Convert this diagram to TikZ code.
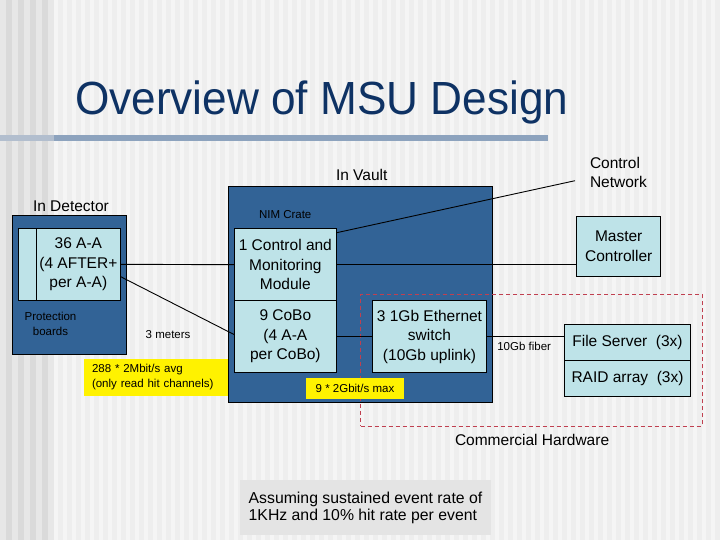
\documentclass[tikz,border=0pt]{standalone}
\usepackage{fontspec}
\setmainfont{Liberation Sans}
\newfontfamily\titlefont[FakeStretch=0.95]{Liberation Sans}
\definecolor{bgmain}{RGB}{238,238,238}
\definecolor{bgstripe}{RGB}{245,245,245}
\definecolor{bgleft}{RGB}{218,218,218}
\definecolor{bgleftstripe}{RGB}{231,231,231}
\definecolor{titleblue}{RGB}{14,50,100}
\definecolor{ulblue}{RGB}{141,163,190}
\definecolor{ulleft}{RGB}{178,190,206}
\definecolor{nimblue}{RGB}{50,99,150}
\definecolor{cyanbox}{RGB}{190,227,232}
\definecolor{dashred}{RGB}{192,64,80}
\definecolor{asmgray}{RGB}{228,228,228}
\begin{document}
\begin{tikzpicture}[x=1pt,y=-1pt,
  every node/.style={inner sep=0pt, outer sep=0pt},
  f15/.style={font=\fontsize{15.5}{19.5}\selectfont},
  f11/.style={font=\fontsize{11.5}{15}\selectfont},
  dbox/.style={draw=black, line width=1pt, fill=nimblue},
  lbox/.style={draw=black, line width=1pt, fill=cyanbox, align=center, f15},
  ybox/.style={fill=yellow, f11},
  wire/.style={draw=black, line width=0.9pt},
  reddash/.style={draw=dashred, line width=1pt, dash pattern=on 4pt off 3pt}]
\useasboundingbox (0,0) rectangle (720,540);
% background
\fill[bgmain] (0,0) rectangle (720,540);
\foreach \x in {54,63,...,720} \fill[bgstripe] (\x,0) rectangle ++(4,540);
\fill[bgleft] (0,0) rectangle (54,540);
\foreach \x in {0,12,...,48} \fill[bgleftstripe] (\x,0) rectangle ++(6,540);
% title
\node[anchor=base west, text=titleblue, font=\titlefont\fontsize{46.5}{50}\selectfont] (title) at (75,115) {Overview of MSU Design};
\fill[ulblue] (0,135) rectangle (548,141);
\fill[ulleft] (0,135) rectangle (54,141);
% detector
\node[f15, anchor=base west] (indet) at (33,211.7) {In Detector};
\node[dbox, minimum width=114.4pt, minimum height=138pt] (det) at (69.5,285) {};
\node[lbox, minimum width=17.7pt, minimum height=72pt] (strip) at (27.15,264.3) {};
\node[lbox, minimum width=84.7pt, minimum height=72pt] (aa) at (78.35,264.3) {36 A-A\\(4 AFTER+\\per A-A)};
\node[f11, anchor=base, align=center] (prot) at (50.5,335) {Protection\\boards};
% vault
\node[f15, anchor=base west] (invault) at (336,180.7) {In Vault};
\node[dbox, minimum width=264.4pt, minimum height=215.6pt] (nim) at (360.5,294.5) {};
\node[f11, anchor=base west] (nimlbl) at (259,218.3) {NIM Crate};
\node[reddash, minimum width=341.3pt, minimum height=131.8pt] (comm) at (531.35,360.1) {};
\node[lbox, minimum width=102.7pt, minimum height=72pt] (cmm) at (285.35,264.7) {1 Control and\\Monitoring\\Module};
\node[lbox, minimum width=102.7pt, minimum height=71.6pt] (cobo) at (285.35,336.5) {9 CoBo\\(4 A-A\\per CoBo)};
\node[lbox, minimum width=114.4pt, minimum height=71.6pt] (sw) at (429.5,336.5) {3 1Gb Ethernet\\switch\\(10Gb uplink)};
\node[lbox, minimum width=84pt, minimum height=59.3pt] (mc) at (618.7,246.35) {Master\\Controller};
\node[lbox, minimum width=126.4pt, minimum height=35.7pt] (fs) at (627.5,342.15) {File Server\ \ (3x)};
\node[lbox, minimum width=126.4pt, minimum height=36pt] (raid) at (627.5,378) {RAID array\ \ (3x)};
% yellow notes
\node[ybox, anchor=west, minimum height=37pt, text width=128pt, inner xsep=8pt, align=left] (y288) at (84,377.5) {288 * 2Mbit/s avg\\(only read hit channels)};
\node[ybox, minimum width=98pt, minimum height=21pt] (y9) at (355,388.8) {9 * 2Gbit/s max};
% labels
\node[anchor=base west, align=left, font=\fontsize{15.5}{19}\selectfont] (cn) at (590,187.3) {Control\\Network};
\node[f11, anchor=base west] (meters) at (145.7,338) {3 meters};
\node[f11, anchor=base west] (fiber) at (497.3,350.7) {10Gb fiber};
\node[f15, anchor=base west] (commlbl) at (455,445) {Commercial Hardware};
\node[fill=asmgray, anchor=west, minimum height=55pt, minimum width=251pt, align=left, font=\fontsize{15.8}{17}\selectfont] (asm) at (240,507.5) {Assuming sustained event rate of\\1KHz and 10\% hit rate per event};
% connectors
\coordinate (cnend) at (575,180.7);
\draw[wire] (aa.east) -- (cmm.west);
\draw[wire] (cmm.east) -- (cmm.east -| mc.west);
\draw[wire] ([yshift=-12.4pt]aa.east) -- ([yshift=2pt]cobo.west);
\draw[wire] ([yshift=-4pt]cmm.north east) -- (cnend);
\draw[wire] (cobo.east) -- (sw.west);
\draw[wire] (sw.east) -- (sw.east -| fs.west);
\end{tikzpicture}
\end{document}
